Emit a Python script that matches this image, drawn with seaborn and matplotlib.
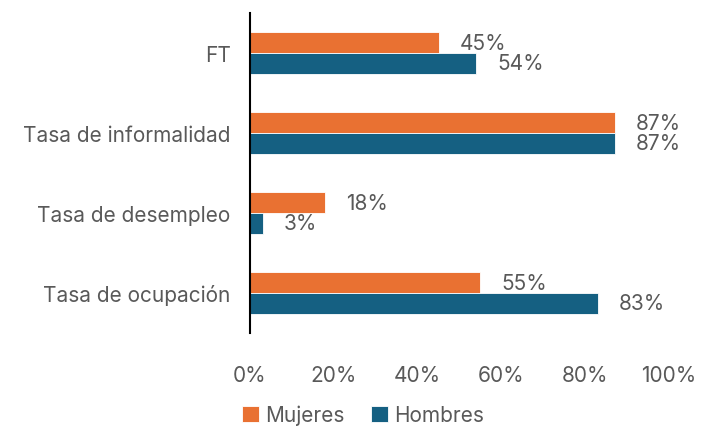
import pandas as pd
import seaborn as sns
import matplotlib.pyplot as plt
from matplotlib.ticker import PercentFormatter

categorias = ["FT", "Tasa de informalidad", "Tasa de desempleo", "Tasa de ocupación"]
mujeres = [45, 87, 18, 55]
hombres = [54, 87, 3, 83]
series = ["Mujeres", "Hombres"]
colores = ["#E97132", "#156082"]
gris = "#595959"

df = pd.DataFrame({
	"categoria": categorias * 2,
	"valor": mujeres + hombres,
	"sexo": [series[0]] * len(categorias) + [series[1]] * len(categorias),
})

sns.set_theme(style="white")
plt.rcParams["font.family"] = ["Inter", "DejaVu Sans"]
fs = 15

fig = plt.figure(figsize=(7.04, 4.27), dpi=100)
ax = fig.add_axes([250 / 704, 1 - 334 / 427, 419 / 704, 320 / 427])

sns.barplot(data=df, y="categoria", x="valor", hue="sexo", order=categorias,
	hue_order=series, palette=colores, saturation=1, width=0.52, orient="h",
	edgecolor="white", linewidth=0.6, ax=ax)

for cont in ax.containers:
	ax.bar_label(cont, labels=[f"{v:.0f}%" for v in cont.datavalues],
		padding=15, fontsize=fs, color=gris)

ax.set_xlim(0, 100)
ax.set_xticks([0, 20, 40, 60, 80, 100])
ax.xaxis.set_major_formatter(PercentFormatter(decimals=0))
ax.set_xlabel("")
ax.set_ylabel("")
ax.tick_params(axis="x", colors=gris, labelsize=fs, length=0, pad=23)
ax.tick_params(axis="y", colors=gris, labelsize=fs, length=0, pad=14)
for s in ["top", "right", "bottom"]:
	ax.spines[s].set_visible(False)
ax.spines["left"].set_color("black")
ax.spines["left"].set_linewidth(1.5)

ax.legend(loc="center", bbox_to_anchor=(0.27, -0.255), ncol=2, frameon=False,
	fontsize=fs, labelcolor=gris, handlelength=0.8, handleheight=0.8,
	handletextpad=0.3, columnspacing=1.3, borderaxespad=0)

plt.savefig("out.png", dpi=100)
